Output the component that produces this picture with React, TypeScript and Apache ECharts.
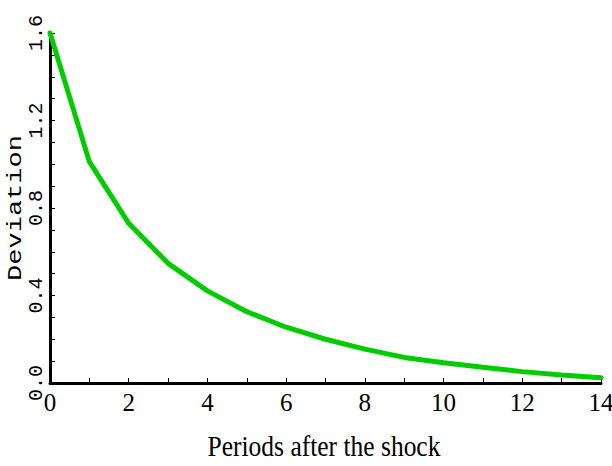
import React, { useEffect, useRef } from "react";
import * as echarts from "echarts";

const periods = [0, 1, 2, 3, 4, 5, 6, 7, 8, 9, 10, 11, 12, 13, 14];
const deviation = [1.6, 1.012, 0.73, 0.547, 0.421, 0.326, 0.255, 0.2, 0.155, 0.117, 0.093, 0.072, 0.052, 0.037, 0.024];
const xTitle = "Periods after the shock";
const yTitle = "Deviation";

export default function App() {
  const ref = useRef<HTMLDivElement>(null);
  useEffect(() => {
    if (!ref.current) return;
    const chart = echarts.init(ref.current, undefined, { renderer: "svg" });
    const serif = "'Liberation Serif', serif";
    const mono = "'Liberation Mono', 'DejaVu Sans Mono', monospace";
    chart.setOption({
      animation: false,
      backgroundColor: "#ffffff",
      grid: { left: 50, right: 11, top: 33, bottom: 83, containLabel: false, outerBoundsMode: "none" },
      graphic: [
        {
          type: "text",
          x: 324,
          y: 446,
          scaleX: 0.85,
          style: {
            text: xTitle,
            fontFamily: serif,
            fontSize: 30,
            fill: "#000",
            align: "center",
            verticalAlign: "middle",
          },
        },
        {
          type: "text",
          x: 16,
          y: 208,
          rotation: Math.PI / 2,
          scaleX: 1.35,
          style: {
            text: yTitle,
            fontFamily: mono,
            fontSize: 20,
            fill: "#000",
            align: "center",
            verticalAlign: "middle",
          },
        },
      ],
      xAxis: {
        type: "value",
        min: 0,
        max: 14,
        interval: 2,
        axisLine: { show: true, onZero: false, lineStyle: { color: "#000", width: 3 } },
        axisTick: { show: true, inside: true, length: 5, lineStyle: { color: "#000", width: 1 } },
        minorTick: { show: true, splitNumber: 2, length: 5, lineStyle: { color: "#000", width: 1 } },
        splitLine: { show: false },
        axisLabel: { fontFamily: serif, fontSize: 25, color: "#000", margin: 7 },
      },
      yAxis: {
        type: "value",
        min: 0,
        max: 1.6,
        interval: 0.4,
        axisLine: { show: true, onZero: false, lineStyle: { color: "#000", width: 3 } },
        axisTick: { show: true, inside: true, length: 5, lineStyle: { color: "#000", width: 1 } },
        minorTick: { show: true, splitNumber: 4, length: 5, lineStyle: { color: "#000", width: 1 } },
        splitLine: { show: false },
        axisLabel: {
          fontFamily: mono,
          fontSize: 20,
          color: "#000",
          rotate: 90,
          margin: 4,
          formatter: (v: number) => v.toFixed(1),
        },
      },
      series: [
        {
          type: "line",
          data: periods.map((p, i) => [p, deviation[i]]),
          showSymbol: false,
          symbol: "none",
          lineStyle: { color: "#00cc00", width: 5, cap: "round" },
          clip: false,
        },
      ],
    });
    return () => chart.dispose();
  }, []);
  return <div ref={ref} style={{ width: 612, height: 466, position: "absolute", left: 0, top: 0 }} />;
}
